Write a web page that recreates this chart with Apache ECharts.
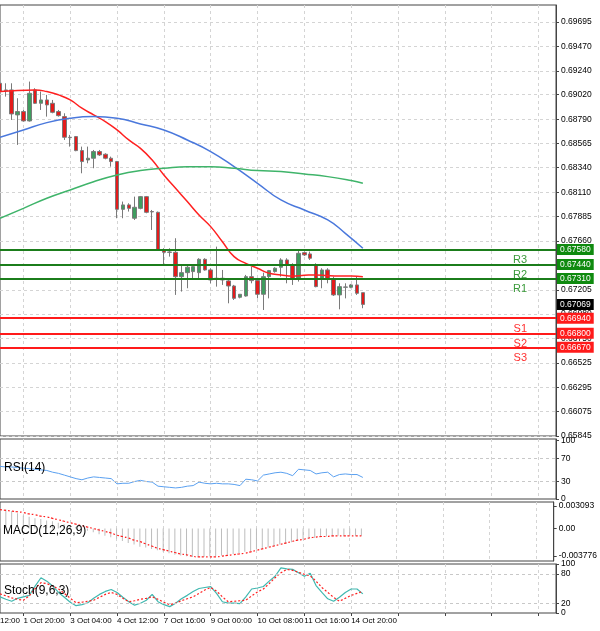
<!DOCTYPE html>
<html><head><meta charset="utf-8">
<script src="https://cdn.jsdelivr.net/npm/echarts@6/dist/echarts.min.js"></script>
<style>html,body{margin:0;padding:0;background:#fff}#c{width:600px;height:631px}</style>
</head><body><div id="c"></div>
<script>
const dateLabels=["1 Oct 20:00","3 Oct 04:00","4 Oct 12:00","7 Oct 16:00","9 Oct 00:00","10 Oct 08:00","11 Oct 16:00","14 Oct 20:00"];
const opens=[0.69125,0.69063,0.69063,0.68831,0.68862,0.68775,0.69063,0.68939,0.68970,0.68939,0.68862,0.68815,0.68623,0.68629,0.68499,0.68412,0.68428,0.68490,0.68465,0.68428,0.68397,0.67953,0.67994,0.67870,0.67962,0.68071,0.67932,0.67925,0.67575,0.67553,0.67553,0.67327,0.67364,0.67374,0.67364,0.67488,0.67389,0.67312,0.67312,0.67287,0.67240,0.67135,0.67147,0.67327,0.67290,0.67163,0.67327,0.67374,0.67414,0.67482,0.67436,0.67302,0.67550,0.67538,0.67436,0.67302,0.67389,0.67302,0.67157,0.67228,0.67228,0.67250,0.67178];
const closes=[0.69048,0.69057,0.68840,0.68862,0.68775,0.69032,0.68939,0.68970,0.68924,0.68855,0.68824,0.68623,0.68620,0.68499,0.68397,0.68428,0.68490,0.68459,0.68428,0.68397,0.67953,0.67994,0.67962,0.67972,0.68071,0.67925,0.67929,0.67575,0.67553,0.67556,0.67327,0.67364,0.67414,0.67420,0.67488,0.67389,0.67296,0.67302,0.67296,0.67240,0.67125,0.67163,0.67327,0.67290,0.67163,0.67327,0.67383,0.67405,0.67482,0.67436,0.67302,0.67544,0.67529,0.67498,0.67234,0.67389,0.67302,0.67157,0.67234,0.67231,0.67250,0.67172,0.67069];
const highs=[0.69311,0.69125,0.69125,0.68986,0.68877,0.69141,0.69079,0.69048,0.69017,0.68970,0.68877,0.68846,0.68645,0.68635,0.68536,0.68536,0.68505,0.68505,0.68474,0.68443,0.68403,0.68025,0.68009,0.68071,0.68077,0.68077,0.67947,0.67932,0.67591,0.67591,0.67684,0.67436,0.67436,0.67427,0.67498,0.67498,0.67405,0.67606,0.67389,0.67296,0.67250,0.67163,0.67343,0.67420,0.67296,0.67364,0.67389,0.67414,0.67498,0.67498,0.67451,0.67575,0.67560,0.67560,0.67451,0.67405,0.67405,0.67327,0.67265,0.67265,0.67259,0.67327,0.67178];
const lows=[0.69017,0.69001,0.68784,0.68552,0.68769,0.68769,0.68933,0.68877,0.68815,0.68846,0.68815,0.68598,0.68536,0.68493,0.68288,0.68381,0.68335,0.68449,0.68418,0.68350,0.67870,0.67870,0.67932,0.67854,0.67953,0.67916,0.67761,0.67569,0.67436,0.67513,0.67157,0.67188,0.67219,0.67296,0.67296,0.67383,0.67265,0.67234,0.67250,0.67079,0.67110,0.67125,0.67141,0.67265,0.67125,0.67017,0.67125,0.67364,0.67327,0.67265,0.67250,0.67281,0.67519,0.67482,0.67228,0.67219,0.67265,0.67147,0.67023,0.67125,0.67219,0.67157,0.67033];
const maFast=[[0,0.69048],[6,0.69063],[8,0.69048],[10,0.69017],[12,0.68970],[14,0.68893],[16,0.68831],[18,0.68769],[20,0.68691],[22,0.68598],[24,0.68520],[26,0.68412],[28,0.68272],[30,0.68149],[32,0.68025],[34,0.67900],[36,0.67792],[38,0.67652],[40,0.67513],[42,0.67451],[44,0.67405],[46,0.67358],[48,0.67343],[50,0.67333],[52,0.67339],[54,0.67343],[56,0.67336],[58,0.67333],[60,0.67333],[62,0.67327]];
const maMid=[[0,0.68623],[4,0.68691],[8,0.68759],[12,0.68800],[16,0.68815],[20,0.68800],[24,0.68747],[28,0.68691],[32,0.68598],[36,0.68490],[40,0.68350],[44,0.68195],[48,0.68040],[52,0.67947],[56,0.67854],[59,0.67730],[62,0.67591]];
const maSlow=[[0,0.67870],[4,0.67962],[8,0.68056],[12,0.68133],[16,0.68210],[20,0.68272],[24,0.68313],[28,0.68335],[32,0.68350],[36,0.68350],[40,0.68335],[44,0.68313],[48,0.68304],[52,0.68282],[56,0.68257],[60,0.68220],[62,0.68195]];
const resist=[0.6731,0.6744,0.6758];
const support=[0.6694,0.6680,0.6667];
const lastPrice=0.67069;
const priceTicks=[0.65845,0.66075,0.66295,0.66525,0.66750,0.66980,0.67205,0.67435,0.67660,0.67885,0.68110,0.68340,0.68565,0.68790,0.69020,0.69240,0.69470,0.69695];
const rsi=[56,55,55,54,53,52,51,50,49,46,44,41,38,35,33,36,38,37,36,35,26,27,27,30,32,30,29,22,21,20,19,20,22,23,29,27,26,27,26,26,25,23,34,33,31,41,43,45,46,44,40,51,50,49,43,45,46,38,42,43,42,42,37];
const macdHist=[0.0028,0.0026,0.0024,0.0021,0.0018,0.0016,0.0014,0.0013,0.0011,0.0010,0.0008,0.0006,0.0004,0.0002,-0.0001,-0.0003,-0.0005,-0.0008,-0.0010,-0.0012,-0.0014,-0.0017,-0.0020,-0.0022,-0.0025,-0.0026,-0.0028,-0.0030,-0.0032,-0.0034,-0.0036,-0.0037,-0.0038,-0.0039,-0.0039,-0.0039,-0.0038,-0.0038,-0.0037,-0.0036,-0.0035,-0.0034,-0.0032,-0.0031,-0.0029,-0.0028,-0.0026,-0.0024,-0.0022,-0.0021,-0.0019,-0.0017,-0.0015,-0.0014,-0.0013,-0.0012,-0.0011,-0.0011,-0.0010,-0.0010,-0.0010,-0.0010,-0.0010];
const macdSignal=[0.0026,0.0025,0.0024,0.0023,0.0022,0.0020,0.0019,0.0017,0.0016,0.0014,0.0012,0.0010,0.0008,0.0006,0.0004,0.0002,0.0000,-0.0002,-0.0004,-0.0006,-0.0009,-0.0011,-0.0013,-0.0016,-0.0018,-0.0021,-0.0024,-0.0027,-0.0029,-0.0031,-0.0033,-0.0035,-0.0036,-0.0038,-0.0039,-0.0039,-0.0039,-0.0039,-0.0038,-0.0037,-0.0036,-0.0035,-0.0034,-0.0032,-0.0030,-0.0028,-0.0026,-0.0024,-0.0022,-0.0020,-0.0018,-0.0016,-0.0015,-0.0013,-0.0012,-0.0011,-0.0011,-0.0010,-0.0010,-0.0010,-0.0010,-0.0010,-0.0010];
const macdTicks=[0.003093,0,-0.003776];
const stochK=[33,28,24,30,33,36,55,72,65,55,42,32,22,15,17,21,30,38,44,48,42,32,23,16,20,26,38,23,17,13,20,29,36,44,50,52,54,40,23,20,20,19,33,49,51,54,65,75,92,90,89,82,75,81,56,42,29,24,32,42,49,49,39];
const stochD=[39,35,31,28,26,35,50,62,60,55,49,40,30,21,22,24,26,32,38,42,38,30,23,25,28,30,33,28,22,17,20,25,29,33,40,47,52,45,33,23,24,25,26,35,43,49,60,72,82,89,87,83,79,76,65,52,42,32,24,30,36,40,44];

const N=96;
const cats=[];for(let i=0;i<N;i++){const k=(i-4)/8;cats.push(i%8===4&&k<dateLabels.length?dateLabels[k]:'');}
const candles=opens.map((o,i)=>[o,closes[i],lows[i],highs[i]]);
const F='Liberation Sans, Arial, sans-serif';
const grids=[{top:5,height:431},{top:439,height:60},{top:502,height:59},{top:564,height:49}].map(g=>Object.assign({left:0,right:44,show:true,borderColor:'#444',borderWidth:1,backgroundColor:'#fff'},g));
const tickFn=(i)=>i%8===4;
const xAxes=grids.map((g,gi)=>({type:'category',gridIndex:gi,data:cats,boundaryGap:false,
  axisLine:{show:false},axisTick:{show:gi===3,interval:tickFn,length:3,lineStyle:{color:'#444'}},
  axisLabel:{show:gi===3,interval:tickFn,align:'left',fontSize:8,color:'#000',fontFamily:F,margin:4,formatter:v=>v},
  splitLine:{show:true,interval:tickFn,lineStyle:{color:'#d4d4d4',type:[3,3]}}}));
function yAx(gi,min,max,vals,fmt,extra){return Object.assign({type:'value',gridIndex:gi,position:'right',min,max,
  axisLine:{show:true,lineStyle:{color:'#444'}},axisTick:{show:true,customValues:vals,length:3,lineStyle:{color:'#444'}},
  axisLabel:{customValues:vals,formatter:fmt,fontSize:8.5,color:'#000',fontFamily:F,margin:5},
  splitLine:{show:false}},extra||{});}
const yAxes=[
 yAx(0,0.65845,0.69853,priceTicks,v=>v.toFixed(5),{interval:0.0022647,splitLine:{show:true,lineStyle:{color:'#d4d4d4',type:[3,3]}}}),
 yAx(1,0,103,[0,30,70,100],v=>String(v)),
 yAx(2,-0.004463,0.003643,macdTicks,v=>v===0?'0.00':v.toFixed(6)),
 yAx(3,0,100,[0,20,80,100],v=>String(v))
];
const hidden={color:'rgba(0,0,0,0)',width:1,type:'solid'};
const levelLines=[];
resist.forEach((v,i)=>{
 levelLines.push({yAxis:v,lineStyle:{color:'#1b7d1b',width:2,type:'solid'},label:{show:true,position:'end',distance:1,formatter:v.toFixed(5),backgroundColor:'#0f8a0f',color:'#fff',fontSize:8.5,fontFamily:F,padding:[1,3]}});
 levelLines.push({yAxis:v,lineStyle:hidden,label:{show:true,position:'insideEndBottom',formatter:'R'+(i+1),color:'#3a9a3a',fontSize:11,fontFamily:F,padding:[0,24,0,0]}});
});
support.forEach((v,i)=>{
 levelLines.push({yAxis:v,lineStyle:{color:'#ff1a1a',width:2,type:'solid'},label:{show:true,position:'end',distance:1,formatter:v.toFixed(5),backgroundColor:'#ff1a1a',color:'#fff',fontSize:8.5,fontFamily:F,padding:[1,3]}});
 levelLines.push({yAxis:v,lineStyle:hidden,label:{show:true,position:'insideEndBottom',formatter:'S'+(i+1),color:'#ff3030',fontSize:11,fontFamily:F,padding:[0,24,0,0]}});
});
levelLines.push({yAxis:lastPrice,lineStyle:hidden,label:{show:true,position:'end',distance:1,formatter:lastPrice.toFixed(5),backgroundColor:'#000',color:'#fff',fontSize:8.5,fontFamily:F,padding:[1,3]}});
const ln=(gi,data,color,dash,w)=>({type:'line',xAxisIndex:gi,yAxisIndex:gi,data,showSymbol:false,smooth:true,lineStyle:{color,width:w||1.5,type:dash?[2,2]:'solid'},z:3,silent:true});
const lvl=(vals)=>({symbol:'none',silent:true,precision:5,data:vals.map(v=>({yAxis:v})),lineStyle:{color:'#c8c8c8',type:[3,3],width:1},label:{show:false}});
const series=[
 {type:'candlestick',xAxisIndex:0,yAxisIndex:0,data:candles,barWidth:4,itemStyle:{color:'#3f9d5f',color0:'#e41b1b',borderColor:'#7a7a7a',borderColor0:'#7a7a7a',borderWidth:1},
  markLine:{symbol:'none',silent:true,animation:false,precision:5,data:levelLines},z:2},
 ln(0,maFast,'#ff2020'),ln(0,maMid,'#4a78dc'),ln(0,maSlow,'#3fb46a'),
 Object.assign(ln(1,rsi,'#5aa0f0',false,1),{smooth:false,markLine:lvl([30,70])}),
 {type:'bar',xAxisIndex:2,yAxisIndex:2,data:macdHist,barWidth:1,itemStyle:{color:'#bdbdbd'},silent:true},
 ln(2,macdSignal,'#ff2020',true,1.2),
 Object.assign(ln(3,stochK,'#40b8b0',false,1.2),{smooth:false,markLine:lvl([20,80])}),
 Object.assign(ln(3,stochD,'#ff2020',true,1.2),{smooth:false})
];
const txt=(x,y,t)=>({type:'text',left:x,top:y,style:{text:t,fontSize:12,fontFamily:F,fill:'#000'},z:50});
const chart=echarts.init(document.getElementById('c'));
chart.setOption({animation:false,backgroundColor:'#fff',grid:grids,xAxis:xAxes,yAxis:yAxes,series,
 graphic:[txt(4,462,'RSI(14)'),txt(3,525,'MACD(12,26,9)'),txt(4,585,'Stoch(9,6,3)'),
  {type:'text',left:0,top:617,style:{text:'12:00',fontSize:8,fontFamily:F,fill:'#000'}}]});
</script></body></html>
